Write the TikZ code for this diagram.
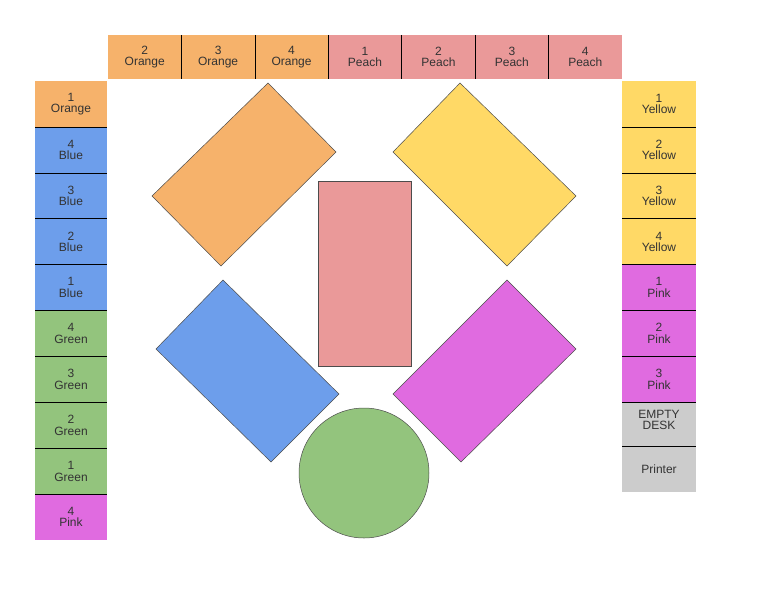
\documentclass[tikz,border=0pt]{standalone}
\usepackage{fontspec}
\setmainfont{Liberation Sans}
\definecolor{cor}{HTML}{F6B26B}
\definecolor{cpe}{HTML}{EA9999}
\definecolor{cye}{HTML}{FFD966}
\definecolor{cbl}{HTML}{6D9EEB}
\definecolor{cgr}{HTML}{93C47D}
\definecolor{cpi}{HTML}{E06BE0}
\definecolor{cgy}{HTML}{CCCCCC}
\definecolor{ctx}{HTML}{333333}
\begin{document}
\begin{tikzpicture}[x=1pt,y=-1pt,
  cell/.style={inner sep=0pt,align=center,font=\fontsize{12}{11.5}\selectfont,text=ctx},
  shp/.style={draw=black!70,line width=0.5pt}]
\useasboundingbox (0,0) rectangle (768,594);
% top row
\foreach \i/\t/\c in {0/2 Orange/cor,1/3 Orange/cor,2/4 Orange/cor,3/1 Peach/cpe,4/2 Peach/cpe,5/3 Peach/cpe,6/4 Peach/cpe}{
  \pgfmathsetmacro\xa{108+\i*73.43}
  \fill[\c] (\xa,35) rectangle ++(73.43,44);
}
\foreach \i/\n/\w/\c in {0/2/Orange/cor,1/3/Orange/cor,2/4/Orange/cor,3/1/Peach/cpe,4/2/Peach/cpe,5/3/Peach/cpe,6/4/Peach/cpe}{
  \node[cell] (t\i) at ({108+\i*73.43+36.7},57) {\n\\\w};
}
\foreach \i in {1,...,6}{\draw[black,line width=0.6pt] ({108+\i*73.43},35) -- ++(0,44);}
% left column
\foreach \i/\n/\w/\c in {0/1/Orange/cor,1/4/Blue/cbl,2/3/Blue/cbl,3/2/Blue/cbl,4/1/Blue/cbl,5/4/Green/cgr,6/3/Green/cgr,7/2/Green/cgr,8/1/Green/cgr,9/4/Pink/cpi}{
  \fill[\c] (35,{81+\i*45.9}) rectangle ++(72,45.9);
  \node[cell] (l\i) at (71,{81+\i*45.9+23}) {\n\\\w};
}
\foreach \i in {1,...,9}{\draw[black,line width=0.6pt] (35,{81+\i*45.9}) -- ++(72,0);}
% right column
\foreach \i/\n/\w/\c in {0/1/Yellow/cye,1/2/Yellow/cye,2/3/Yellow/cye,3/4/Yellow/cye,4/1/Pink/cpi,5/2/Pink/cpi,6/3/Pink/cpi}{
  \fill[\c] (622,{81+\i*45.9}) rectangle ++(74,45.9);
  \node[cell] (r\i) at (659,{81+\i*45.9+23}) {\n\\\w};
}
\fill[cgy] (622,402.3) rectangle (696,492);
\node[cell] (r7) at (659,420) {EMPTY\\DESK};
\node[cell] (r8) at (659,469) {Printer};
\foreach \i in {1,...,7}{\draw[black,line width=0.6pt] (622,{81+\i*45.9}) -- ++(74,0);}
\draw[black,line width=0.6pt] (622,446) -- ++(74,0);
% shapes
\filldraw[shp,fill=cor] (268,83) -- (336,152) -- (221,266) -- (152,196) -- cycle;
\filldraw[shp,fill=cye] (460,83) -- (393,152) -- (507,266) -- (576,196) -- cycle;
\filldraw[shp,fill=cpe] (318,181) rectangle (411,366);
\filldraw[shp,fill=cbl] (223,280) -- (156,349) -- (271,462) -- (339,394) -- cycle;
\filldraw[shp,fill=cpi] (507,280) -- (576,349) -- (461,462) -- (393,394) -- cycle;
\filldraw[shp,fill=cgr] (364,473) circle (65);
\end{tikzpicture}
\end{document}
